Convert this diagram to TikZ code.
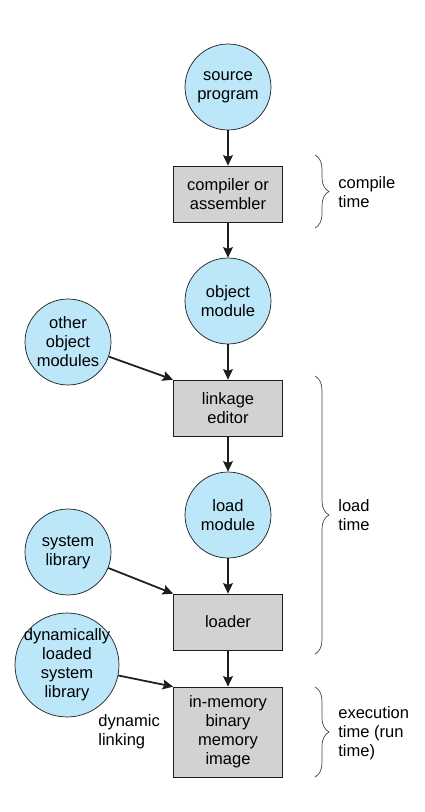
\documentclass[tikz,border=0pt]{standalone}
\usepackage{xcolor}
\usepackage{fontspec}
\setmainfont{Liberation Sans}
\usepackage{tikz}
\usetikzlibrary{shapes.geometric, arrows.meta, positioning, decorations.pathreplacing}
\definecolor{mydark}{RGB}{30,30,30}
\definecolor{modcyan}{RGB}{187,231,249}
\definecolor{stagegray}{RGB}{210,210,212}
\definecolor{bracegray}{RGB}{70,70,70}
\tikzset{
  module/.style={circle, draw=mydark, fill=modcyan, line width=0.4pt,
    minimum size=1.72cm, inner sep=0pt, align=center,
    font=\fontsize{9.4}{10.8}\selectfont},
  stage/.style={rectangle, draw=mydark, fill=stagegray, line width=0.4pt,
    minimum width=2.18cm, minimum height=1.12cm, inner sep=0pt, align=center,
    font=\fontsize{9.4}{10.8}\selectfont},
  note/.style={align=left, inner sep=0pt, font=\fontsize{9.4}{10.8}\selectfont},
  arrow/.style={-{Stealth[length=6pt, width=5.6pt, inset=1pt]}, line width=1pt, color=mydark},
  bracket/.style={decorate, decoration={brace, amplitude=0.28cm}, line width=0.4pt, color=bracegray}
}

\begin{document}
\begin{tikzpicture}[x=0.02cm, y=-0.02cm]
    \useasboundingbox (0,0) rectangle (424,812);
    \node[module] (src) at (228,87) {source\\program};
    \node[stage] (comp) at (228,194) {compiler or\\assembler};
    \node[module] (obj) at (228,301) {object\\module};
    \node[module] (other) at (68,342) {other\\object\\modules};
    \node[stage] (link) at (228,408) {linkage\\editor};
    \node[module] (loadm) at (228,515) {load\\module};
    \node[module] (syslib) at (68,552) {system\\library};
    \node[stage] (loader) at (228,622) {loader};
    \node[module, minimum size=2.08cm, inner sep=-4pt] (dyn) at (67,665) {dynamically\\loaded\\system\\library};
    \node[stage, minimum height=1.8cm] (image) at (228,732) {in-memory\\binary\\memory\\image};
    \node[note, anchor=west] (dlink) at (98,732) {dynamic\\linking};

    \draw[arrow] (src) -- (comp);
    \draw[arrow] (comp) -- (obj);
    \draw[arrow] (obj) -- (link);
    \draw[arrow] (other) -- (link.north west);
    \draw[arrow] (link) -- (loadm);
    \draw[arrow] (loadm) -- (loader);
    \draw[arrow] (syslib) -- (loader.north west);
    \draw[arrow] (loader) -- (image);
    \draw[arrow] (dyn) -- (image.north west);

    \coordinate (ctop) at (315,155);
    \coordinate (cbot) at (315,228);
    \coordinate (ltop) at (315,376);
    \coordinate (lbot) at (315,654);
    \coordinate (etop) at (315,687);
    \coordinate (ebot) at (315,777);
    \draw[bracket] (ctop) -- (cbot);
    \draw[bracket] (ltop) -- (lbot);
    \draw[bracket] (etop) -- (ebot);
    \node[note, anchor=west] (ctime) at (338,192) {compile\\time};
    \node[note, anchor=west] (ltime) at (338,515) {load\\time};
    \node[note, anchor=west] (etime) at (338,733) {execution\\time (run\\time)};
\end{tikzpicture}
\end{document}
